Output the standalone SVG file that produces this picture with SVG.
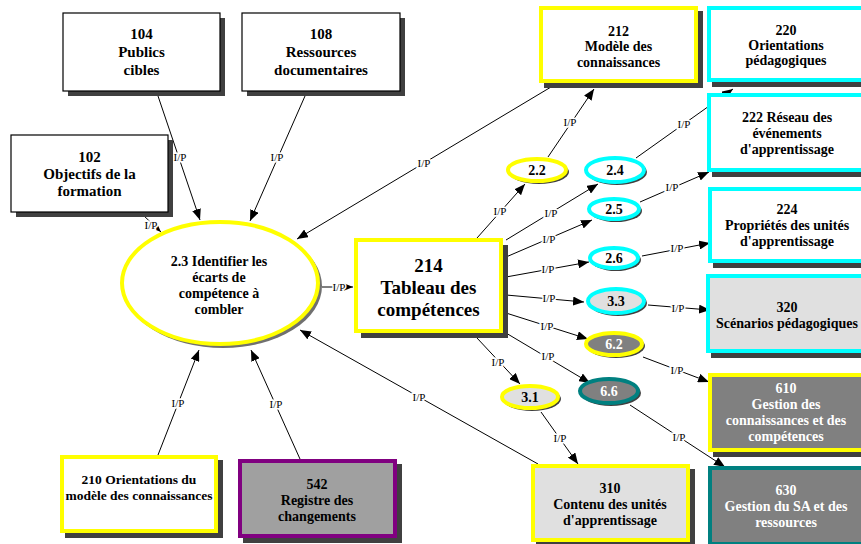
<svg xmlns="http://www.w3.org/2000/svg" width="861" height="544" viewBox="0 0 861 544">
<style>
.t{font-family:"Liberation Serif","Times New Roman",serif;font-weight:bold;text-anchor:middle;fill:#000}
.w{fill:#fff}
.s15{font-size:15px}
.s14{font-size:14px}
.s13{font-size:13.5px}
.s19{font-size:19px}
.sh{fill:#404040}
.esh{fill:#707070}
.bk{fill:#fff;stroke:#000;stroke-width:1.2}
.yw{fill:#fff;stroke:#ffff00;stroke-width:4}
.yl{fill:#e0e0e0;stroke:#ffff00;stroke-width:4}
.yg{fill:#808080;stroke:#ffff00;stroke-width:4}
.cw{fill:#fff;stroke:#00ffff;stroke-width:4}
.cl{fill:#e0e0e0;stroke:#00ffff;stroke-width:4}
.tg{fill:#808080;stroke:#008080;stroke-width:4}
.pg{fill:#a0a0a0;stroke:#800080;stroke-width:4}
.c line{stroke:#000;stroke-width:1;marker-end:url(#ah)}
.lb{font-family:"Liberation Serif","Times New Roman",serif;font-size:11px;text-anchor:middle;fill:#000;stroke:#fff;stroke-width:3;paint-order:stroke}
</style>
<defs>
<marker id="ah" markerUnits="userSpaceOnUse" markerWidth="11" markerHeight="9" refX="11" refY="4.5" orient="auto">
<path d="M0,0 L11,4.5 L0,9 z" fill="#000"/>
</marker>
</defs>
<rect width="861" height="544" fill="#fff"/>

<g id="connectors" class="c">
<line x1="158" y1="96" x2="200" y2="220"/>
<line x1="305" y1="96" x2="250" y2="221"/>
<line x1="143" y1="215" x2="161" y2="232"/>
<line x1="551" y1="87" x2="297" y2="239"/>
<line x1="322" y1="287" x2="353" y2="287"/>
<line x1="538" y1="464" x2="300" y2="330"/>
<line x1="158" y1="455" x2="199" y2="350"/>
<line x1="300" y1="459" x2="251" y2="350"/>
<line x1="477" y1="238" x2="525" y2="184"/>
<line x1="548" y1="157" x2="594" y2="89"/>
<line x1="506" y1="240" x2="598" y2="184"/>
<line x1="636" y1="158" x2="733" y2="89"/>
<line x1="506" y1="257" x2="592" y2="220"/>
<line x1="640" y1="202" x2="709" y2="172"/>
<line x1="506" y1="277" x2="589" y2="262"/>
<line x1="642" y1="256" x2="710" y2="243"/>
<line x1="506" y1="295" x2="584" y2="302"/>
<line x1="648" y1="305" x2="710" y2="310"/>
<line x1="506" y1="313" x2="588" y2="339"/>
<line x1="643" y1="357" x2="709" y2="382"/>
<line x1="506" y1="333" x2="590" y2="383"/>
<line x1="630" y1="405" x2="725" y2="467"/>
<line x1="477" y1="338" x2="520" y2="384"/>
<line x1="541" y1="412" x2="578" y2="464"/>
<text class="lb" x="180" y="161">I/P</text>
<text class="lb" x="277" y="161">I/P</text>
<text class="lb" x="151" y="229">I/P</text>
<text class="lb" x="424" y="167">I/P</text>
<text class="lb" x="339" y="291">I/P</text>
<text class="lb" x="419" y="401">I/P</text>
<text class="lb" x="178" y="407">I/P</text>
<text class="lb" x="276" y="408">I/P</text>
<text class="lb" x="500" y="215">I/P</text>
<text class="lb" x="570" y="126">I/P</text>
<text class="lb" x="551" y="217">I/P</text>
<text class="lb" x="684" y="128">I/P</text>
<text class="lb" x="549" y="243">I/P</text>
<text class="lb" x="672" y="191">I/P</text>
<text class="lb" x="548" y="273">I/P</text>
<text class="lb" x="677" y="252">I/P</text>
<text class="lb" x="549" y="302">I/P</text>
<text class="lb" x="678" y="312">I/P</text>
<text class="lb" x="547" y="330">I/P</text>
<text class="lb" x="677" y="374">I/P</text>
<text class="lb" x="548" y="360">I/P</text>
<text class="lb" x="679" y="441">I/P</text>
<text class="lb" x="498" y="366">I/P</text>
<text class="lb" x="560" y="442">I/P</text>
</g>

<g id="n104">
<rect class="sh" x="68" y="18" width="157" height="78"/>
<rect class="bk" x="63" y="13" width="157" height="78"/>
<text class="t s15" x="141.5" y="39">104</text>
<text class="t s15" x="141.5" y="57">Publics</text>
<text class="t s15" x="141.5" y="75">cibles</text>
</g>
<g id="n108">
<rect class="sh" x="247" y="18" width="158" height="78"/>
<rect class="bk" x="242" y="13" width="158" height="78"/>
<text class="t s15" x="321" y="39">108</text>
<text class="t s15" x="321" y="57">Ressources</text>
<text class="t s15" x="321" y="75">documentaires</text>
</g>
<g id="n102">
<rect class="sh" x="16" y="140" width="157" height="77"/>
<rect class="bk" x="11" y="135" width="157" height="77"/>
<text class="t s15" x="89.5" y="162">102</text>
<text class="t s15" x="89.5" y="179">Objectifs de la</text>
<text class="t s15" x="89.5" y="196">formation</text>
</g>
<g id="n2_3">
<ellipse class="esh" cx="223" cy="286" rx="99" ry="62"/>
<ellipse class="yw" cx="220" cy="283" rx="98" ry="61"/>
<text class="t s14" x="219" y="266">2.3 Identifier les</text>
<text class="t s14" x="219" y="282">écarts de</text>
<text class="t s14" x="219" y="298">compétence à</text>
<text class="t s14" x="219" y="314">combler</text>
</g>
<g id="n214">
<rect class="sh" x="361" y="245" width="147" height="93"/>
<rect class="yw" x="356" y="240" width="145" height="91"/>
<text class="t s19" x="428.5" y="272">214</text>
<text class="t s19" x="428.5" y="294">Tableau des</text>
<text class="t s19" x="428.5" y="316">compétences</text>
</g>
<g id="n210">
<rect class="sh" x="65" y="460" width="158" height="78"/>
<rect class="yw" x="62" y="457" width="154" height="74"/>
<text class="t s13" x="139" y="484">210 Orientations du</text>
<text class="t s13" x="139" y="500">modèle des connaissances</text>
</g>
<g id="n542">
<rect class="sh" x="243" y="464" width="159" height="79"/>
<rect class="pg" x="240" y="461" width="155" height="75"/>
<text class="t s14" x="317" y="489">542</text>
<text class="t s14" x="317" y="505">Registre des</text>
<text class="t s14" x="317" y="521">changements</text>
</g>
<g id="n212">
<rect class="sh" x="544" y="11" width="159" height="77"/>
<rect class="yw" x="541" y="8" width="155" height="73"/>
<text class="t s14" x="618.5" y="36">212</text>
<text class="t s14" x="618.5" y="51">Modèle des</text>
<text class="t s14" x="618.5" y="67">connaissances</text>
</g>
<g id="n220">
<rect class="sh" x="712" y="11" width="160" height="76"/>
<rect class="cw" x="709" y="8" width="156" height="72"/>
<text class="t s14" x="786" y="35">220</text>
<text class="t s14" x="786" y="50">Orientations</text>
<text class="t s14" x="786" y="65">pédagogiques</text>
</g>
<g id="n222">
<rect class="sh" x="712" y="98" width="160" height="79"/>
<rect class="cw" x="709" y="95" width="156" height="75"/>
<text class="t s14" x="787" y="122">222 Réseau des</text>
<text class="t s14" x="787" y="138">événements</text>
<text class="t s14" x="787" y="154">d'apprentissage</text>
</g>
<g id="n224">
<rect class="sh" x="713" y="192" width="160" height="76"/>
<rect class="cw" x="710" y="189" width="156" height="72"/>
<text class="t s14" x="787" y="214">224</text>
<text class="t s14" x="787" y="230">Propriétés des unités</text>
<text class="t s14" x="787" y="246">d'apprentissage</text>
</g>
<g id="n320">
<rect class="sh" x="711" y="279" width="160" height="79"/>
<rect class="cl" x="708" y="276" width="156" height="75"/>
<text class="t s14" x="787" y="312">320</text>
<text class="t s14" x="787" y="328">Scénarios pédagogiques</text>
</g>
<g id="n610">
<rect class="sh" x="713" y="378" width="160" height="79"/>
<rect class="yg" x="710" y="375" width="156" height="75"/>
<text class="t s14 w" x="786" y="393">610</text>
<text class="t s14 w" x="786" y="409">Gestion des</text>
<text class="t s14 w" x="786" y="425">connaissances et des</text>
<text class="t s14 w" x="786" y="441">compétences</text>
</g>
<g id="n630">
<rect class="sh" x="713" y="471" width="160" height="79"/>
<rect class="tg" x="710" y="468" width="156" height="76"/>
<text class="t s14 w" x="786" y="495">630</text>
<text class="t s14 w" x="786" y="511">Gestion du SA et des</text>
<text class="t s14 w" x="786" y="527">ressources</text>
</g>
<g id="n310">
<rect class="sh" x="536" y="469" width="159" height="78"/>
<rect class="yl" x="533" y="466" width="155" height="74"/>
<text class="t s14" x="610" y="493">310</text>
<text class="t s14" x="610" y="509">Contenu des unités</text>
<text class="t s14" x="610" y="525">d'apprentissage</text>
</g>

<g id="n2_2">
<ellipse class="sh" cx="539" cy="172" rx="30" ry="12"/>
<ellipse class="yw" cx="537" cy="170" rx="29" ry="11"/>
<text class="t s14" x="537" y="175">2.2</text>
</g>
<g id="n2_4">
<ellipse class="sh" cx="617" cy="172" rx="30" ry="13"/>
<ellipse class="cw" cx="615" cy="170" rx="29" ry="12"/>
<text class="t s14" x="615" y="175">2.4</text>
</g>
<g id="n2_5">
<ellipse class="sh" cx="616" cy="211" rx="26" ry="11"/>
<ellipse class="cw" cx="614" cy="209" rx="25" ry="10"/>
<text class="t s14" x="614" y="214">2.5</text>
</g>
<g id="n2_6">
<ellipse class="sh" cx="616" cy="260" rx="25" ry="11"/>
<ellipse class="cw" cx="614" cy="258" rx="24" ry="10"/>
<text class="t s14" x="614" y="263">2.6</text>
</g>
<g id="n3_3">
<ellipse class="sh" cx="618" cy="303" rx="29" ry="13"/>
<ellipse class="cl" cx="616" cy="301" rx="28" ry="12"/>
<text class="t s14" x="616" y="306">3.3</text>
</g>
<g id="n6_2">
<ellipse class="sh" cx="616" cy="346" rx="29" ry="12"/>
<ellipse class="yg" cx="614" cy="344" rx="28" ry="11"/>
<text class="t s14 w" x="614" y="349">6.2</text>
</g>
<g id="n6_6">
<ellipse class="sh" cx="611" cy="393" rx="30" ry="13"/>
<ellipse class="tg" cx="609" cy="391" rx="29" ry="12"/>
<text class="t s14 w" x="609" y="396">6.6</text>
</g>
<g id="n3_1">
<ellipse class="sh" cx="532" cy="399" rx="29" ry="12"/>
<ellipse class="yl" cx="530" cy="397" rx="28" ry="11"/>
<text class="t s14" x="530" y="402">3.1</text>
</g>
</svg>
